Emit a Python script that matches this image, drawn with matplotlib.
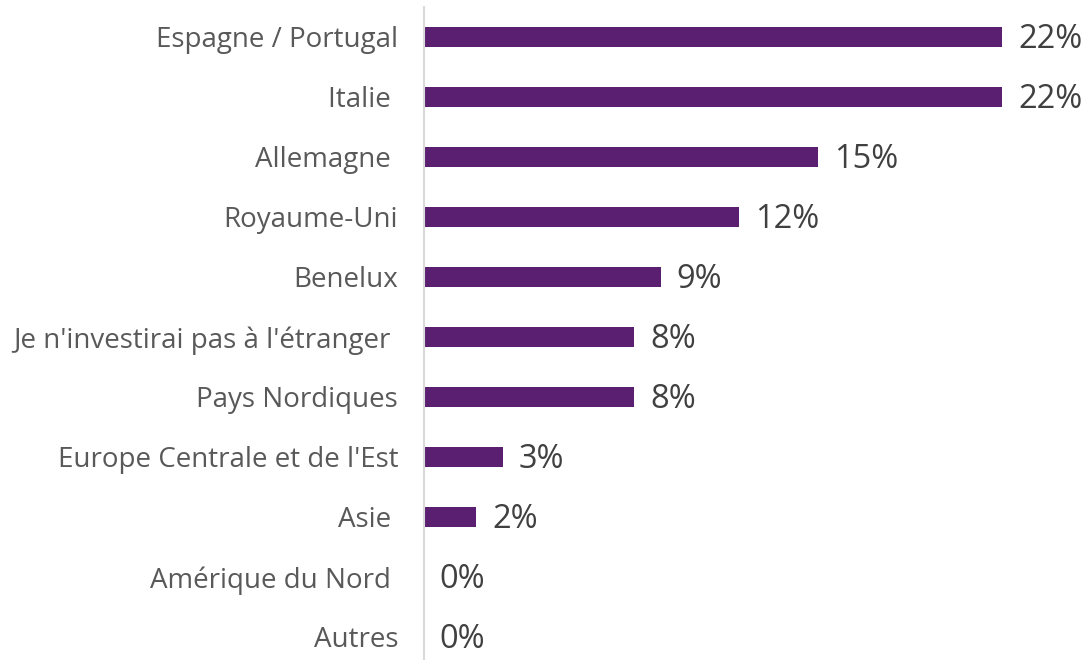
import matplotlib
matplotlib.use("Agg")
import matplotlib.pyplot as plt

# Données (de haut en bas)
regions = [
    "Espagne / Portugal",
    "Italie ",
    "Allemagne ",
    "Royaume-Uni",
    "Benelux",
    "Je n'investirai pas à l'étranger ",
    "Pays Nordiques",
    "Europe Centrale et de l'Est",
    "Asie ",
    "Amérique du Nord ",
    "Autres",
]
pourcentages = [22, 22, 15, 12, 9, 8, 8, 3, 2, 0, 0]

BAR_COLOR = "#5B1F72"
plt.rcParams["font.family"] = ["Open Sans", "DejaVu Sans"]

fig = plt.figure(figsize=(10.84, 6.60), dpi=100)
ax = fig.add_axes([0.391, -0.0106, 0.609, 1.0])

y = list(range(len(regions)))
ax.barh(y, pourcentages, height=0.34, color=BAR_COLOR)

for yi, v in zip(y, pourcentages):
    ax.text(v + 0.6, yi + 0.05, f"{v}%", va="center", ha="left",
            fontsize=23.5, color="#404040")

ax.set_yticks(y)
ax.set_yticklabels(regions, fontsize=20, color="#595959")
ax.tick_params(axis="y", length=0, pad=18.5)
ax.set_xticks([])
ax.set_xlim(0, 25.1)
ax.set_ylim(len(regions) - 0.5, -0.5)

for s in ["top", "right", "bottom"]:
    ax.spines[s].set_visible(False)
ax.spines["left"].set_color("#d9d9d9")
ax.spines["left"].set_linewidth(1.5)

fig.savefig("out.png", dpi=100)
